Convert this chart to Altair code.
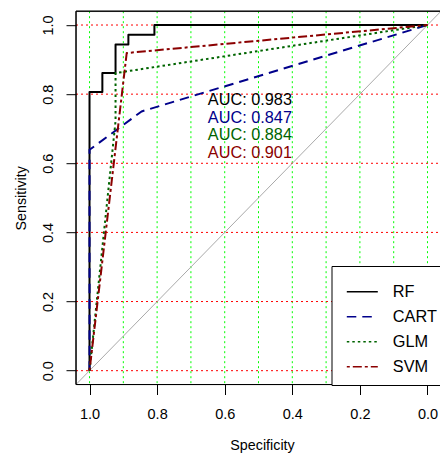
import altair as alt
import pandas as pd

# ---- data ----
models = ["RF", "CART", "GLM", "SVM"]
colors = ["#000000", "#00008B", "#006400", "#8B0000"]
auc_values = [0.983, 0.847, 0.884, 0.901]

rf_spec = [1.0, 1.0, 0.962, 0.962, 0.923, 0.923, 0.885, 0.885, 0.808, 0.808, 0.0]
rf_sens = [0.0, 0.806, 0.806, 0.861, 0.861, 0.944, 0.944, 0.972, 0.972, 1.0, 1.0]
cart_spec = [1.0, 1.0, 0.846, 0.0]
cart_sens = [0.0, 0.639, 0.750, 1.0]
glm_spec = [1.0, 0.923, 0.923, 0.0]
glm_sens = [0.0, 0.722, 0.861, 1.0]
svm_spec = [1.0, 0.890, 0.0]
svm_sens = [0.0, 0.919, 1.0]

axis_ticks = [0.0, 0.2, 0.4, 0.6, 0.8, 1.0]
green_grid = [0.0, 0.1, 0.2, 0.3, 0.4, 0.5, 0.6, 0.7, 0.8, 0.9, 1.0]
red_grid = [0.0, 0.2, 0.4, 0.6, 0.8, 1.0]

# ---- layout constants ----
W, H = 364, 373.3
FONT = "Liberation Sans"
X_DOMAIN = [-0.037, 1.04]
Y_DOMAIN = [-0.04, 1.04]

rows = []
for m, sp, se in [("RF", rf_spec, rf_sens), ("CART", cart_spec, cart_sens),
                  ("GLM", glm_spec, glm_sens), ("SVM", svm_spec, svm_sens)]:
    for i, (a, b) in enumerate(zip(sp, se)):
        rows.append({"model": m, "spec": a, "sens": b, "idx": i})
curves = pd.DataFrame(rows)

auc_df = pd.DataFrame({
    "model": models,
    "label": [f"AUC: {v:.3f}" for v in auc_values],
    "spec": [0.5255] * 4,
    "sens": [0.783 - 0.0507 * i for i in range(4)],
})

diag = pd.DataFrame({"spec": [1.04, -0.04], "sens": [-0.04, 1.04]})
green_df = pd.DataFrame({"spec": green_grid})
red_df = pd.DataFrame({"sens": red_grid})

xscale = alt.Scale(domain=X_DOMAIN, reverse=True, nice=False, zero=False)
yscale = alt.Scale(domain=Y_DOMAIN, nice=False, zero=False)

x_axis = alt.Axis(values=axis_ticks, format=".1f", title="Specificity", grid=False,
                  domain=False, tickSize=10, tickColor="black", labelColor="black",
                  labelFontSize=14.5, labelFont=FONT, labelBaseline="middle",
                  labelPadding=19.5, labelFlush=False, labelOverlap=False,
                  titleFont=FONT, titleFontSize=14.3, titleFontWeight="normal",
                  titleColor="black", titleX=186, titleY=60.5,
                  titleBaseline="middle", titleAlign="center")
y_axis = alt.Axis(values=axis_ticks, format=".1f", title="Sensitivity", grid=False,
                  domain=False, tickSize=10, tickColor="black", labelColor="black",
                  labelFontSize=14.5, labelFont=FONT, labelAngle=270,
                  labelAlign="center", labelBaseline="middle", labelPadding=17.7,
                  labelFlush=False, labelOverlap=False,
                  titleFont=FONT, titleFontSize=14.3, titleFontWeight="normal",
                  titleColor="black", titleX=-54.3, titleY=H / 2, titleAngle=270,
                  titleBaseline="middle", titleAlign="center")

color_scale = alt.Scale(domain=models, range=colors)
dash_scale = alt.Scale(domain=models, range=[[1, 0], [9.5, 6], [2.5, 3], [3, 3, 9, 3]])

green = alt.Chart(green_df).mark_rule(color="#00FF00", strokeWidth=1, strokeDash=[2, 3]).encode(
    x=alt.X("spec:Q", scale=xscale, axis=x_axis),
    y=alt.value(0), y2=alt.value(H))
red = alt.Chart(red_df).mark_rule(color="#FF0000", strokeWidth=1, strokeDash=[2, 3]).encode(
    y=alt.Y("sens:Q", scale=yscale, axis=y_axis),
    x=alt.value(0), x2=alt.value(W))

diag_line = alt.Chart(diag).mark_line(color="#A9A9A9", strokeWidth=1, clip=True).encode(
    x=alt.X("spec:Q", scale=xscale), y=alt.Y("sens:Q", scale=yscale))

lines = alt.Chart(curves).mark_line(strokeWidth=2, strokeCap="butt", strokeJoin="round").encode(
    x=alt.X("spec:Q", scale=xscale),
    y=alt.Y("sens:Q", scale=yscale),
    order="idx:Q",
    color=alt.Color("model:N", scale=color_scale, sort=models,
                    legend=alt.Legend(orient="none", legendX=255.5, legendY=254.8, title=None,
                                      symbolType="stroke", symbolSize=961,
                                      symbolStrokeWidth=1.5, labelFontSize=16.3,
                                      labelFont=FONT, labelColor="black", labelOffset=14,
                                      padding=9.3, symbolOffset=5, rowPadding=-8,
                                      fillColor="white", strokeColor="black", labelLimit=0)),
    strokeDash=alt.StrokeDash("model:N", scale=dash_scale, sort=models),
)

auc_text = alt.Chart(auc_df).mark_text(align="center", baseline="middle", fontSize=16.3,
                                       font=FONT).encode(
    x=alt.X("spec:Q", scale=xscale),
    y=alt.Y("sens:Q", scale=yscale),
    text="label:N",
    color=alt.Color("model:N", scale=color_scale, legend=None),
)

frame_df = pd.DataFrame({"side": ["top", "bottom"]})
top_rule = alt.Chart(frame_df).mark_rule(color="black", strokeWidth=1).encode(
    x=alt.value(0), x2=alt.value(W + 10), y=alt.value(0))
bottom_rule = alt.Chart(frame_df).mark_rule(color="black", strokeWidth=1).encode(
    x=alt.value(0), x2=alt.value(W + 10), y=alt.value(H))
left_rule = alt.Chart(frame_df).mark_rule(color="black", strokeWidth=1).encode(
    x=alt.value(0), y=alt.value(0), y2=alt.value(H))

chart = alt.layer(green, red, diag_line, lines, auc_text, top_rule, bottom_rule, left_rule).properties(
    width=W, height=H,
    autosize=alt.AutoSizeParams(type="none"),
    padding={"left": 68, "top": 3.2, "right": 0, "bottom": 69.5},
    background="white",
).configure_view(stroke=None).configure(font=FONT)

chart.save("out.html", embed_options={"renderer": "svg", "actions": False})
